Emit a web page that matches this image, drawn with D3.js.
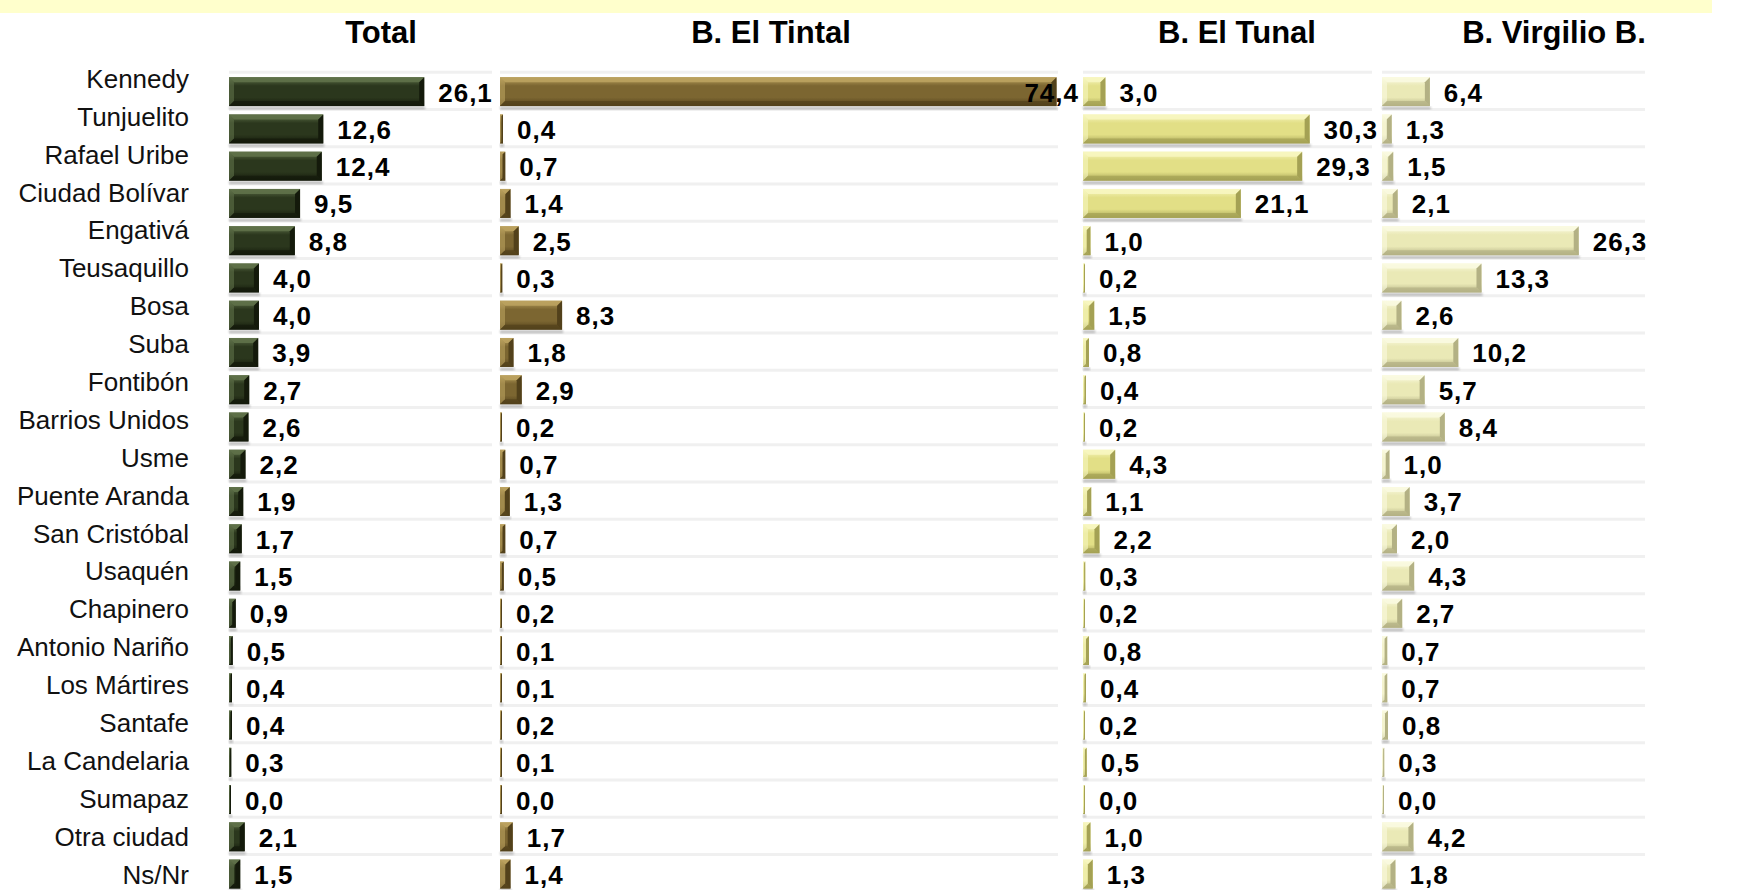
<!DOCTYPE html>
<html>
<head>
<meta charset="utf-8">
<script src="https://cdn.jsdelivr.net/npm/d3@7"></script>
<style>
body { margin: 0; background: #fff; }
svg { display: block; font-family: "Liberation Sans", Arial, sans-serif; }
</style>
</head>
<body>
<svg id="chart" width="1743" height="890"></svg>
<script>
var categories = ["Kennedy", "Tunjuelito", "Rafael Uribe", "Ciudad Bolívar", "Engativá", "Teusaquillo",
    "Bosa", "Suba", "Fontibón", "Barrios Unidos", "Usme", "Puente Aranda", "San Cristóbal", "Usaquén",
    "Chapinero", "Antonio Nariño", "Los Mártires", "Santafe", "La Candelaria", "Sumapaz", "Otra ciudad", "Ns/Nr"];
var panelTitles = ["Total", "B. El Tintal", "B. El Tunal", "B. Virgilio B."];
var total = [26.1, 12.6, 12.4, 9.5, 8.8, 4.0, 4.0, 3.9, 2.7, 2.6, 2.2, 1.9, 1.7, 1.5, 0.9, 0.5, 0.4, 0.4, 0.3, 0.0, 2.1, 1.5];
var tintal = [74.4, 0.4, 0.7, 1.4, 2.5, 0.3, 8.3, 1.8, 2.9, 0.2, 0.7, 1.3, 0.7, 0.5, 0.2, 0.1, 0.1, 0.2, 0.1, 0.0, 1.7, 1.4];
var tunal = [3.0, 30.3, 29.3, 21.1, 1.0, 0.2, 1.5, 0.8, 0.4, 0.2, 4.3, 1.1, 2.2, 0.3, 0.2, 0.8, 0.4, 0.2, 0.5, 0.0, 1.0, 1.3];
var virgilio = [6.4, 1.3, 1.5, 2.1, 26.3, 13.3, 2.6, 10.2, 5.7, 8.4, 1.0, 3.7, 2.0, 4.3, 2.7, 0.7, 0.7, 0.8, 0.3, 0.0, 4.2, 1.8];

var panels = [
    { title: panelTitles[0], values: total, x: 229, lineEnd: 492, limit: 496, titleX: 381, base: "#2b371d", light: "#5f7149", dark: "#141a0b" },
    { title: panelTitles[1], values: tintal, x: 500, lineEnd: 1058, limit: 1079, titleX: 771, base: "#7c6631", light: "#bba25f", dark: "#52411b" },
    { title: panelTitles[2], values: tunal, x: 1083, lineEnd: 1372, limit: 1378, titleX: 1237, base: "#e2df86", light: "#f7f6c0", dark: "#a4a154" },
    { title: panelTitles[3], values: virgilio, x: 1382, lineEnd: 1645, limit: 1740, titleX: 1554, base: "#eae9b6", light: "#fafae0", dark: "#b3b184" }
];

var svg = d3.select("#chart");

var x = d3.scaleLinear().domain([0, 80]).range([0, 598.4]);
var y = d3.scaleBand().domain(categories)
    .range([73, 73 + 22 * 37.26])
    .paddingInner(0.222)
    .paddingOuter(0.111);
var yLabel = d3.scalePoint().domain(categories).range([78.9, 874.5]);

var defs = svg.append("defs");
defs.append("filter").attr("id", "blur")
    .append("feGaussianBlur").attr("stdDeviation", 1);

panels.forEach(function (p, i) {
    var g = defs.append("linearGradient").attr("id", "grad-" + i)
        .attr("x1", 0).attr("y1", 0).attr("x2", 0).attr("y2", 1);
    g.append("stop").attr("offset", "0%").attr("stop-color", p.light);
    g.append("stop").attr("offset", "30%").attr("stop-color", p.base);
    g.append("stop").attr("offset", "70%").attr("stop-color", p.base);
    g.append("stop").attr("offset", "100%").attr("stop-color", p.dark);
});

// top band
svg.append("rect")
    .attr("x", 0).attr("y", 0)
    .attr("width", 1712).attr("height", 13)
    .attr("fill", "#ffffcc");

// category labels
svg.append("g").selectAll("text")
    .data(categories)
    .enter().append("text")
    .attr("x", 189)
    .attr("y", function (d) { return yLabel(d) + 9; })
    .attr("text-anchor", "end")
    .attr("font-size", 26)
    .attr("fill", "#111")
    .text(function (d) { return d; });

var fmt = function (v) { return v.toFixed(1).replace(".", ","); };
var bh = y.bandwidth();

panels.forEach(function (p, pi) {
    var panel = svg.append("g").attr("class", "panel-" + pi);

    panel.append("text")
        .attr("x", p.titleX)
        .attr("y", 43)
        .attr("text-anchor", "middle")
        .attr("font-size", 31)
        .attr("font-weight", "bold")
        .attr("fill", "#000")
        .text(p.title);

    var seps = categories.map(function (c) { return y(c) - 5; });
    seps.push(seps[seps.length - 1] + y.step());
    panel.selectAll(".sep")
        .data(seps)
        .enter().append("line")
        .attr("class", "sep")
        .attr("x1", p.x).attr("x2", p.lineEnd)
        .attr("y1", function (d) { return d; })
        .attr("y2", function (d) { return d; })
        .attr("stroke", "#f0f0f0")
        .attr("stroke-width", 3);

    var rows = panel.selectAll(".bar")
        .data(p.values)
        .enter().append("g")
        .attr("class", "bar")
        .attr("transform", function (d, i) { return "translate(" + p.x + "," + y(categories[i]) + ")"; });

    rows.append("rect")
        .attr("x", 0).attr("y", bh + 0.5)
        .attr("width", function (d) { return Math.max(x(d), 2) + 1; })
        .attr("height", 3)
        .attr("fill", "#9a9a9a")
        .attr("opacity", 0.6)
        .attr("filter", "url(#blur)");

    rows.append("rect")
        .attr("width", function (d) { return Math.max(x(d), 2); })
        .attr("height", bh)
        .attr("fill", "url(#grad-" + pi + ")");

    // bevel edges
    rows.each(function (d) {
        var w = Math.max(x(d), 2), h = bh;
        var b = Math.min(5, w / 2);
        var r = d3.select(this);
        r.append("polygon")
            .attr("points", [[0, 0], [w, 0], [w - b, b], [b, b]].join(" "))
            .attr("fill", p.light).attr("opacity", 0.9);
        r.append("polygon")
            .attr("points", [[0, 0], [b, b], [b, h - b], [0, h]].join(" "))
            .attr("fill", p.light).attr("opacity", 0.6);
        r.append("polygon")
            .attr("points", [[w, 0], [w, h], [w - b, h - b], [w - b, b]].join(" "))
            .attr("fill", p.dark);
        r.append("polygon")
            .attr("points", [[0, h], [w, h], [w - b, h - b], [b, h - b]].join(" "))
            .attr("fill", p.dark).attr("opacity", 0.7);
    });

    rows.append("text")
        .attr("x", function (d) { return Math.max(x(d), 2) + 14; })
        .attr("y", bh / 2 + 1)
        .attr("dominant-baseline", "central")
        .attr("font-size", 26)
        .attr("font-weight", "bold")
        .attr("letter-spacing", 1)
        .attr("fill", "#000")
        .text(function (d) { return fmt(d); })
        .each(function (d) {
            var t = d3.select(this);
            var len = this.getComputedTextLength();
            var right = p.x + Math.max(x(d), 2) + 14 + len;
            if (right > p.limit) {
                t.attr("text-anchor", "end").attr("x", p.limit - p.x);
            }
        });
});
</script>
</body>
</html>
